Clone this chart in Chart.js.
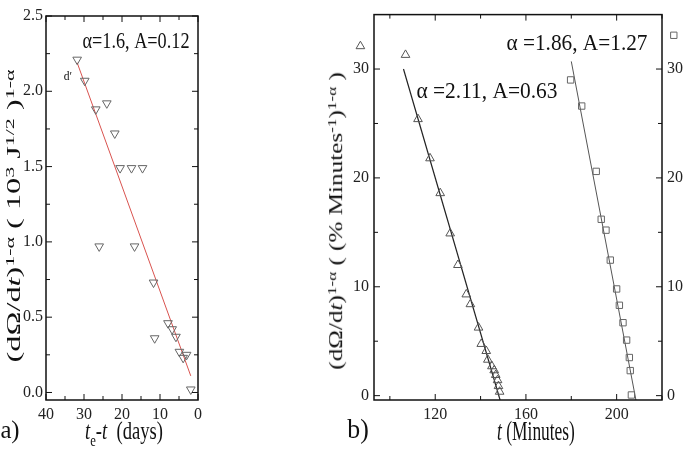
<!DOCTYPE html>
<html>
<head>
<meta charset="utf-8">
<script src="https://cdn.jsdelivr.net/npm/chart.js@4.4.1/dist/chart.umd.min.js"></script>
<style>
  body { margin: 0; background: #fff; }
  #wrap { position: relative; width: 685px; height: 453px; overflow: hidden; background: #fff; }
  canvas { position: absolute; top: 0; }
  .t { position: absolute; white-space: nowrap; font-family: 'Liberation Serif', 'Times New Roman', serif;
       color: #111; line-height: 1; transform: translate(-50%, -50%); }
  .t sup { font-size: .68em; position: relative; top: -.5em; vertical-align: baseline; line-height: 0; }
  .t sub { font-size: .68em; position: relative; top: .4em; vertical-align: baseline; line-height: 0; }
</style>
</head>
<body>
<div id="wrap">
  <canvas id="chartA" width="230" height="453" style="left:0"></canvas>
  <canvas id="chartB" width="385" height="453" style="left:300px"></canvas>

  <div class="t" data-w="107" style="left:136px;top:40px;font-size:24px">α=1.6, A=0.12</div>
  <div class="t" data-w="8" style="left:68px;top:75px;font-size:13px">d′</div>
  <div class="t" data-w="141" style="left:487px;top:90px;font-size:24px">α =2.11, A=0.63</div>
  <div class="t" data-w="141" style="left:577px;top:42px;font-size:24px">α =1.86, A=1.27</div>

  <div class="t" data-w="19" style="left:10px;top:430px;font-size:26px">a)</div>
  <div class="t" data-w="22" style="left:358px;top:429px;font-size:27px">b)</div>
  <div class="t" data-w="78" style="left:124px;top:431px;font-size:26px"><i>t</i><sub>e</sub>-<i>t</i>&nbsp; (days)</div>
  <div class="t" data-w="78" style="left:536px;top:431px;font-size:27px"><i>t</i> (Minutes)</div>

  <div class="t" data-w="293" data-rot="1" style="left:14px;top:216px;font-size:25px">(dΩ/d<i>t</i>)<sup>1-α</sup> ( 10<sup>3</sup> J<sup>1/2</sup> )<sup>1-α</sup></div>
  <div class="t" data-w="298" data-rot="1" style="left:336px;top:221px;font-size:25px">(dΩ/d<i>t</i>)<sup>1-α</sup> ( (% Minutes<sup>-1</sup>)<sup>1-α</sup> )</div>
</div>

<script>
// panel a) : t_e - t (days) vs rate
var daysA = [31.8, 29.8, 26.9, 24.0, 21.9, 20.5, 17.5, 14.6, 26.0, 16.7, 11.7, 11.4, 7.9, 6.8, 5.8, 4.9, 3.9, 3.0, 1.9];
var valsA = [2.21, 2.07, 1.88, 1.92, 1.72, 1.49, 1.49, 1.49, 0.97, 0.97, 0.73, 0.36, 0.46, 0.42, 0.37, 0.27, 0.23, 0.25, 0.02];
var fitDaysA = [31.8, 1.9];
var fitValsA = [2.19, 0.11];
var xTicksA = [0, 10, 20, 30, 40];
var xMinorA = [5, 15, 25, 35];
var yTicksA = [0, 0.5, 1.0, 1.5, 2.0, 2.5];
var yMinorA = [0.25, 0.75, 1.25, 1.75, 2.25];

// panel b) : t (Minutes) vs rate, two series
var triT = [106.9, 112.4, 117.7, 122.2, 126.6, 130.0, 133.7, 135.5, 139.1, 140.3, 142.5, 143.2, 145.0, 146.0, 146.7, 147.5, 147.9, 148.4];
var triV = [31.3, 25.4, 21.8, 18.6, 14.9, 12.0, 9.3, 8.4, 6.25, 4.75, 4.1, 3.3, 2.7, 2.33, 1.9, 1.42, 0.88, 0.36];
var triFitT = [106.0, 148.6];
var triFitV = [30.0, -0.4];
var sqT = [179.7, 184.6, 191.0, 193.2, 195.3, 197.2, 200.0, 201.2, 202.8, 204.4, 205.6, 206.0, 206.5];
var sqV = [29.0, 26.6, 20.6, 16.2, 15.2, 12.45, 9.8, 8.3, 6.7, 5.1, 3.5, 2.3, 0.06];
var sqFitT = [180.0, 208.5];
var sqFitV = [30.7, -0.4];
// series keys sit outside the plot, beside the left and right axes
var triKey = [87, 32.1];
var sqKey = [225.2, 33.1];
var xTicksB = [120, 160, 200];
var xMinorB = [100, 140, 180, 220];
var yTicksB = [0, 10, 20, 30];
var yMinorB = [5, 15, 25];

var SERIF = "'Liberation Serif', 'Times New Roman', serif";

function pts(xs, ys) {
  return xs.map(function(x, i) { return { x: x, y: ys[i] }; });
}

Chart.defaults.font.family = SERIF;
Chart.defaults.color = '#222';

// box round the plot area with short inward ticks on all four sides
var frameTicks = {
  id: 'frameTicks',
  afterDraw: function(chart, args, o) {
    var ctx = chart.ctx, a = chart.chartArea;
    var xs = chart.scales.x, ys = chart.scales.y;
    ctx.save();
    ctx.strokeStyle = '#111';
    ctx.lineWidth = 1;
    function seg(x1, y1, x2, y2) { ctx.beginPath(); ctx.moveTo(x1, y1); ctx.lineTo(x2, y2); ctx.stroke(); }
    function xt(list, len) {
      list.forEach(function(v) {
        var p = xs.getPixelForValue(v);
        seg(p, a.bottom, p, a.bottom - len);
        seg(p, a.top, p, a.top + len);
      });
    }
    function yt(list, len) {
      list.forEach(function(v) {
        var p = ys.getPixelForValue(v);
        seg(a.left, p, a.left + len, p);
        seg(a.right, p, a.right - len, p);
      });
    }
    xt(o.xMajor, 6); xt(o.xMinor, 4);
    yt(o.yMajor, 6); yt(o.yMinor, 4);
    ctx.lineWidth = 1.5;
    ctx.strokeRect(a.left, a.top, a.right - a.left, a.bottom - a.top);
    // key markers outside the plot area
    (o.keys || []).forEach(function(k) {
      ctx.strokeStyle = k.color;
      ctx.fillStyle = 'rgba(0,0,0,0)';
      ctx.lineWidth = 1;
      Chart.helpers.drawPoint(ctx, { pointStyle: k.style, radius: k.radius, rotation: 0, borderWidth: 1 },
        xs.getPixelForValue(k.at[0]), ys.getPixelForValue(k.at[1]));
    });
    ctx.restore();
  }
};

function fixTicks(list) {
  return function(s) { s.ticks = list.map(function(v) { return { value: v }; }); };
}

new Chart(document.getElementById('chartA').getContext('2d'), {
  type: 'scatter',
  data: {
    datasets: [{
      data: pts(daysA, valsA),
      pointStyle: 'triangle',
      rotation: 180,
      radius: 5,
      borderColor: '#666',
      backgroundColor: 'rgba(0,0,0,0)',
      borderWidth: 1
    }, {
      data: pts(fitDaysA, fitValsA),
      showLine: true,
      pointRadius: 0,
      borderColor: '#d9534f',
      borderWidth: 1
    }]
  },
  options: {
    responsive: false,
    animation: false,
    events: [],
    layout: { padding: { top: 16, right: 32, left: 0, bottom: 0 } },
    plugins: {
      legend: { display: false },
      tooltip: { enabled: false },
      frameTicks: { xMajor: xTicksA, xMinor: xMinorA, yMajor: yTicksA, yMinor: yMinorA }
    },
    scales: {
      x: {
        type: 'linear', min: 0, max: 40, reverse: true,
        afterBuildTicks: fixTicks(xTicksA),
        afterFit: function(s) { s.height = 53; },
        grid: { display: false, drawTicks: false },
        border: { display: false },
        ticks: { font: { family: SERIF, size: 16 }, padding: 5 }
      },
      y: {
        min: -0.05, max: 2.5,
        afterBuildTicks: fixTicks(yTicksA),
        afterFit: function(s) { s.width = 46; },
        grid: { display: false, drawTicks: false },
        border: { display: false },
        ticks: { font: { family: SERIF, size: 16 }, padding: 3, callback: function(v) { return v.toFixed(1); } }
      }
    }
  },
  plugins: [frameTicks]
});

new Chart(document.getElementById('chartB').getContext('2d'), {
  type: 'scatter',
  data: {
    datasets: [{
      data: pts(triT, triV),
      pointStyle: 'triangle',
      radius: 5,
      borderColor: '#555',
      backgroundColor: 'rgba(0,0,0,0)',
      borderWidth: 1
    }, {
      data: pts(triFitT, triFitV),
      showLine: true,
      pointRadius: 0,
      borderColor: '#222',
      borderWidth: 1.2
    }, {
      data: pts(sqT, sqV),
      pointStyle: 'rect',
      radius: 4.5,
      borderColor: '#666',
      backgroundColor: 'rgba(0,0,0,0)',
      borderWidth: 1
    }, {
      data: pts(sqFitT, sqFitV),
      showLine: true,
      pointRadius: 0,
      borderColor: '#555',
      borderWidth: 1
    }]
  },
  options: {
    responsive: false,
    animation: false,
    events: [],
    layout: { padding: { top: 9, right: 0, left: 0, bottom: 0 } },
    plugins: {
      legend: { display: false },
      tooltip: { enabled: false },
      frameTicks: {
        xMajor: xTicksB, xMinor: xMinorB, yMajor: yTicksB, yMinor: yMinorB,
        keys: [
          { at: triKey, style: 'triangle', radius: 5, color: '#555' },
          { at: sqKey, style: 'rect', radius: 4.5, color: '#666' }
        ]
      }
    },
    scales: {
      x: {
        type: 'linear', min: 93, max: 220,
        afterBuildTicks: fixTicks(xTicksB),
        afterFit: function(s) { s.height = 53; },
        grid: { display: false, drawTicks: false },
        border: { display: false },
        ticks: { font: { family: SERIF, size: 16 }, padding: 5 }
      },
      y: {
        min: -0.4, max: 35,
        afterBuildTicks: fixTicks(yTicksB),
        afterFit: function(s) { s.width = 74; },
        grid: { display: false, drawTicks: false },
        border: { display: false },
        ticks: { font: { family: SERIF, size: 16 }, padding: 5 }
      },
      y2: {
        position: 'right',
        min: -0.4, max: 35,
        afterBuildTicks: fixTicks(yTicksB),
        afterFit: function(s) { s.width = 23; },
        grid: { display: false, drawTicks: false },
        border: { display: false },
        ticks: { font: { family: SERIF, size: 16 }, padding: 5 }
      }
    }
  },
  plugins: [frameTicks]
});

// squeeze the overlay texts to the widths seen in the picture
function fitLabels() {
  document.querySelectorAll('.t').forEach(function(el) {
    var sx = (+el.dataset.w) / el.offsetWidth;
    if (el.dataset.rot) {
      el.style.transform = 'translate(-50%,-50%) rotate(-90deg) scale(' + sx + ',0.75)';
    } else {
      el.style.transform = 'translate(-50%,-50%) scale(' + sx + ',1)';
    }
  });
}
fitLabels();
</script>
</body>
</html>
